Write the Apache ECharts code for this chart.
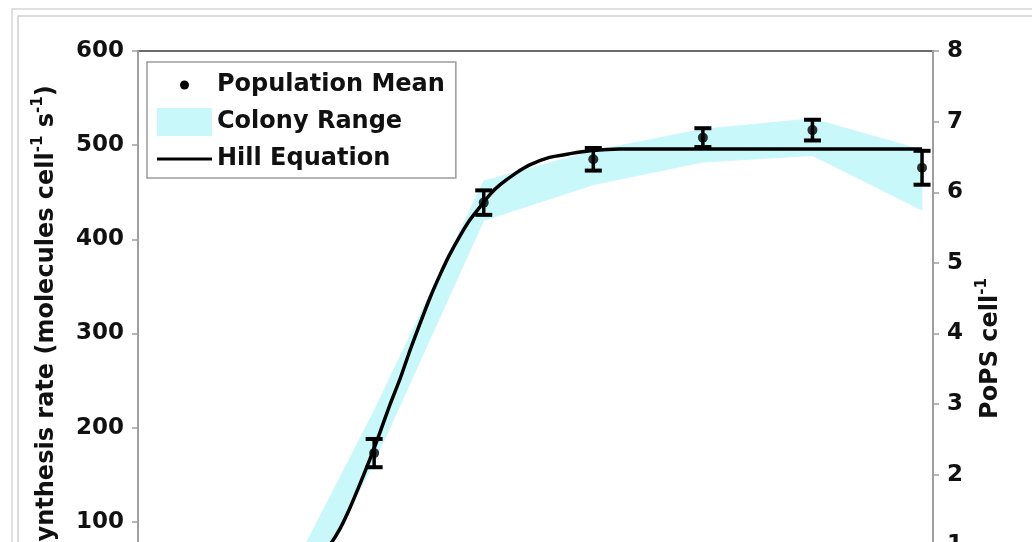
<!DOCTYPE html>
<html><head><meta charset="utf-8">
<script src="https://cdn.jsdelivr.net/npm/echarts@6/dist/echarts.min.js"></script>
<style>html,body{margin:0;padding:0;background:#fff;overflow:hidden;width:1032px;height:542px}#c{width:1032px;height:690px}</style>
</head><body><div id="c"></div>
<script>
// Population mean (data points with error bars), x = dose index
const pointX = [2, 3, 4, 5, 6, 7];
const popMean = [173, 439, 485, 508, 516, 476];
const popErr = [15, 13, 12, 10, 11, 18];
// Hill equation fit
const hillX = [0.59, 0.87, 1.05, 1.23, 1.32, 1.41, 1.51, 1.60, 1.69, 1.78, 1.87, 1.96, 2.05, 2.14, 2.24, 2.33, 2.42, 2.51, 2.60, 2.69, 2.78, 2.87, 2.97, 3.06, 3.15, 3.29, 3.42, 3.60, 3.79, 3.97, 4.24, 4.97, 7.00];
const hillY = [2, 7, 14, 28, 38, 50, 63, 76, 93, 115, 140, 166, 194, 223, 253, 283, 311, 338, 362, 384, 403, 420, 435, 448, 458, 470, 479, 487, 491, 494, 496, 496, 496];
// Colony range band
const bandX = [1, 2, 3, 4, 5, 6, 7];
const bandLow = [-60, 163, 420, 458, 482, 489, 431];
const bandHigh = [-9, 218, 462, 494, 517, 528, 495];
// Axis ticks
const leftTicks = [0, 100, 200, 300, 400, 500, 600];
const rightTicks = [0, 1, 2, 3, 4, 5, 6, 7, 8];

const FONT = 'DejaVu Sans';
const BAND = '#c8f8fa';
const chart = echarts.init(document.getElementById('c'), null, {renderer: 'canvas'});

const supRich = {
  n: {fontFamily: FONT, fontWeight: 'bold', fontSize: 24, color: '#111', lineHeight: 32, verticalAlign: 'middle'},
  s: {fontFamily: FONT, fontWeight: 'bold', fontSize: 15, color: '#111', lineHeight: 32, verticalAlign: 'top'}
};

const yAxisCommon = {
  type: 'value',
  axisLine: {show: true, onZero: false, lineStyle: {color: '#9f9f9f', width: 2}},
  axisTick: {show: true, inside: false, length: 6, lineStyle: {color: '#9f9f9f', width: 1.5}},
  splitLine: {show: false},
  axisLabel: {margin: 14, fontFamily: FONT, fontWeight: 'bold', fontSize: 23, color: '#111'},
  nameLocation: 'middle'
};

chart.setOption({
  animation: false,
  backgroundColor: '#fff',
  graphic: [
    {type: 'rect', silent: true, z: -10, shape: {x: 12, y: 9, width: 1100, height: 800}, style: {fill: 'none', stroke: '#d6d6d6', lineWidth: 1.5}},
    {type: 'rect', silent: true, z: -10, shape: {x: 18, y: 16, width: 1100, height: 800}, style: {fill: 'none', stroke: '#cfcfcf', lineWidth: 1.5}}
  ],
  grid: {left: 138, right: 99, top: 51, bottom: 74, show: true, borderColor: '#6b6b6b', borderWidth: 2, backgroundColor: 'transparent'},
  legend: {
    left: 147, top: 62, orient: 'vertical',
    itemWidth: 55, itemHeight: 28, itemGap: 9,
    padding: [9, 11, 5, 10],
    backgroundColor: '#fff', borderColor: '#9a9a9a', borderWidth: 1.5,
    textStyle: {fontFamily: FONT, fontWeight: 'bold', fontSize: 24, color: '#111'},
    data: [
      {name: 'Population Mean', icon: 'path://M0,0M55,28M23,14a4.5,4.5 0 1,0 9,0a4.5,4.5 0 1,0 -9,0z', itemStyle: {color: '#000', borderWidth: 0}},
      {name: 'Colony Range', icon: 'rect', itemStyle: {color: BAND, borderWidth: 0}},
      {name: 'Hill Equation', icon: 'path://M0,0M55,28M0,12.5H55V15.5H0Z', itemStyle: {color: '#000', borderWidth: 0}}
    ]
  },
  xAxis: {type: 'value', min: -0.155, max: 7.1, show: false},
  yAxis: [
    Object.assign({}, yAxisCommon, {
      position: 'left', min: leftTicks[0], max: leftTicks[leftTicks.length - 1], interval: 100,
      name: '{n|GFP synthesis rate (molecules cell}{s|-1}{n| s}{s|-1}{n|)}',
      nameGap: 75,
      nameTextStyle: {rich: supRich, padding: [0, 36, 0, 0]}
    }),
    Object.assign({}, yAxisCommon, {
      position: 'right', min: rightTicks[0], max: rightTicks[rightTicks.length - 1], interval: 1,
      name: '{n|PoPS cell}{s|-1}',
      nameGap: 42,
      nameTextStyle: {rich: supRich, padding: [0, 30, 0, 0]}
    })
  ],
  series: [
    {
      name: 'Colony Range', type: 'custom', z: 1, silent: true,
      data: bandX.map((x, i) => [x, bandLow[i], bandHigh[i]]),
      encode: {x: 0, y: [1, 2]},
      renderItem: function (params, api) {
        const i = params.dataIndexInside;
        if (i >= params.dataInsideLength - 1) return null;
        const x0 = api.value(0, i), l0 = api.value(1, i), h0 = api.value(2, i);
        const x1 = api.value(0, i + 1), l1 = api.value(1, i + 1), h1 = api.value(2, i + 1);
        const pts = [api.coord([x0, h0]), api.coord([x1, h1]), api.coord([x1, l1]), api.coord([x0, l0])];
        const cs = params.coordSys;
        return {
          type: 'polygon', shape: {points: pts},
          style: {fill: BAND, stroke: BAND, lineWidth: 0.8},
          clipPath: {type: 'rect', shape: {x: cs.x, y: cs.y, width: cs.width, height: cs.height}}
        };
      }
    },
    {
      name: 'Hill Equation', type: 'line', color: '#000',
      data: hillX.map((x, i) => [x, hillY[i]]),
      symbol: 'none', smooth: 0.2, lineStyle: {color: '#000', width: 3.5}, z: 3
    },
    {
      name: 'Population Mean', type: 'custom', z: 4,
      data: pointX.map((x, i) => [x, popMean[i], popErr[i]]),
      encode: {x: 0, y: 1},
      renderItem: function (params, api) {
        const x = api.value(0), y = api.value(1), e = api.value(2);
        const top = api.coord([x, y + e]);
        const bot = api.coord([x, y - e]);
        const cw = 8.5;
        return {
          type: 'group',
          children: [
            {type: 'line', shape: {x1: top[0], y1: top[1], x2: bot[0], y2: bot[1]}, style: {stroke: '#000', lineWidth: 3.5}},
            {type: 'line', shape: {x1: top[0] - cw, y1: top[1], x2: top[0] + cw, y2: top[1]}, style: {stroke: '#000', lineWidth: 4}},
            {type: 'line', shape: {x1: bot[0] - cw, y1: bot[1], x2: bot[0] + cw, y2: bot[1]}, style: {stroke: '#000', lineWidth: 4}}
          ]
        };
      }
    },
    {
      name: 'Population Mean', type: 'scatter', color: '#000', z: 5,
      data: pointX.map((x, i) => [x, popMean[i]]),
      symbol: 'circle', symbolSize: 10, itemStyle: {color: '#000'}
    }
  ]
});
</script></body></html>
